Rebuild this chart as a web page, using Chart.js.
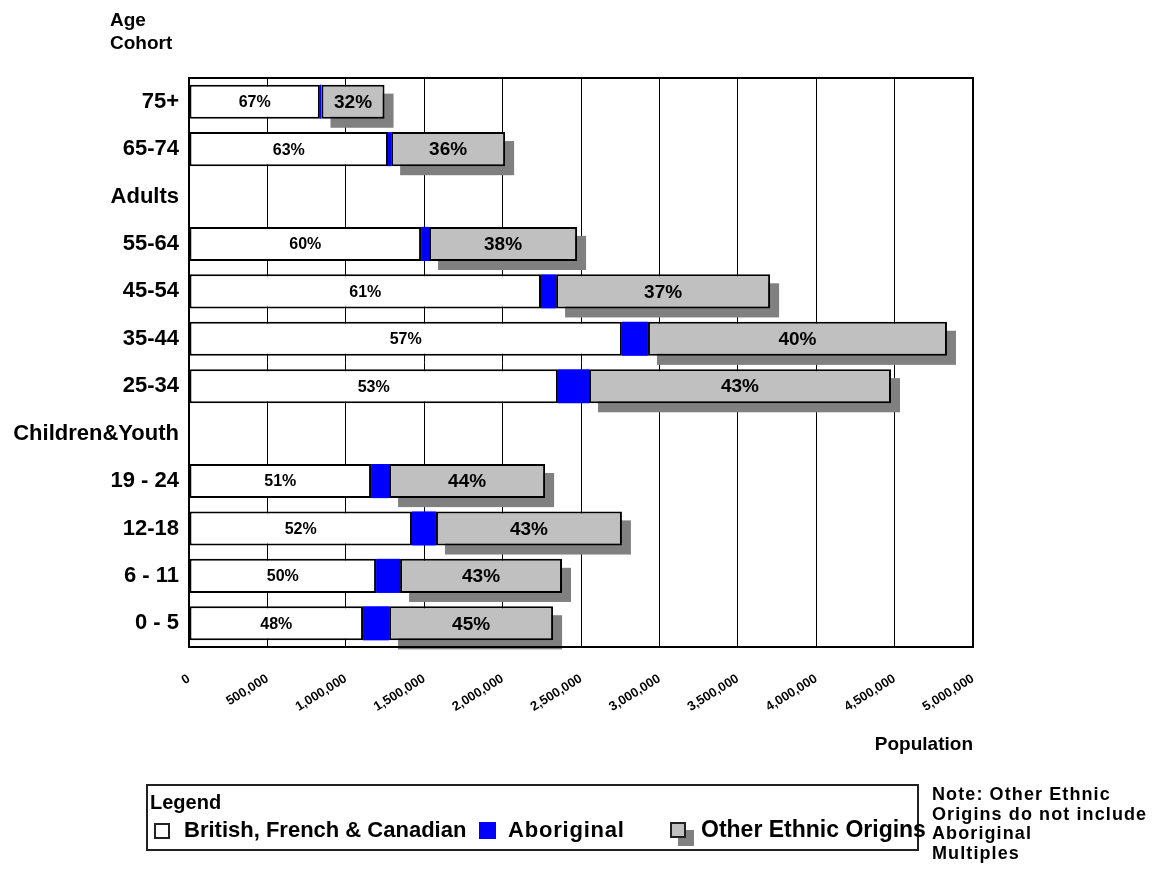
<!DOCTYPE html>
<html>
<head>
<meta charset="utf-8">
<title>Age Cohort by Origin</title>
<script src="https://cdn.jsdelivr.net/npm/chart.js@4"></script>
<style>
  body { margin: 0; background: #fff; font-family: "Liberation Sans", Arial, sans-serif; font-weight: bold; color: #000; }
  #wrap { position: relative; width: 1167px; height: 871px; }
  canvas { position: absolute; left: 0; top: 0; }
  .txt { position: absolute; white-space: nowrap; }
  #legend { position: absolute; left: 146px; top: 784px; width: 769px; height: 63px; border: 2px solid #222; }
  .sw { position: absolute; box-sizing: border-box; }
</style>
</head>
<body>
<div id="wrap">
  <canvas id="chart" width="1167" height="871"></canvas>
  <div class="txt" style="left:110px; top:8px; font-size:19px; line-height:23px;">Age<br>Cohort</div>
  <div class="txt" style="right:194px; top:733px; font-size:19px;">Population</div>
  <div id="legend"></div>
  <div class="txt" style="left:932px; top:785px; font-size:18px; line-height:19.5px; letter-spacing:1.1px;">Note: Other Ethnic<br>Origins do not include<br>Aboriginal<br>Multiples</div>
</div>
<script>
// categories, top to bottom (empty rows are section headings)
const cohorts = ["75+", "65-74", "Adults", "55-64", "45-54", "35-44", "25-34",
  "Children&Youth", "19 - 24", "12-18", "6 - 11", "0 - 5"];

// population by origin
const british = [835000, 1269000, null, 1480000, 2245000, 2761000, 2353000, null, 1161000, 1422000, 1193000, 1110000];
const aboriginal = [10000, 20000, null, 51000, 96000, 166000, 198000, null, 115000, 153000, 153000, 166000];
const otherEthnic = [402000, 727000, null, 944000, 1365000, 1907000, 1926000, null, 995000, 1186000, 1033000, 1046000];

// percentage labels shown on the bars
const britishPct = ["67%", "63%", "", "60%", "61%", "57%", "53%", "", "51%", "52%", "50%", "48%"];
const otherPct = ["32%", "36%", "", "38%", "37%", "40%", "43%", "", "44%", "43%", "43%", "45%"];

const seriesNames = ["British, French & Canadian", "Aboriginal", "Other Ethnic Origins"];
const xTicks = [0, 500000, 1000000, 1500000, 2000000, 2500000, 3000000, 3500000, 4000000, 4500000, 5000000];

const shadowPlugin = {
  id: "shadow",
  beforeDatasetsDraw(chart) {
    const ctx = chart.ctx;
    const meta = chart.getDatasetMeta(2);
    ctx.save();
    ctx.fillStyle = "#808080";
    meta.data.forEach((bar, i) => {
      if (otherEthnic[i] == null) return;
      const left = Math.min(bar.base, bar.x);
      const w = Math.abs(bar.x - bar.base);
      ctx.fillRect(left + 9, bar.y - bar.height / 2 + 9, w, bar.height);
    });
    ctx.restore();
  }
};

const labelPlugin = {
  id: "barLabels",
  afterDatasetsDraw(chart) {
    const ctx = chart.ctx;
    ctx.save();
    ctx.fillStyle = "#000";
    ctx.textAlign = "center";
    ctx.textBaseline = "middle";
    [[0, britishPct, 16], [2, otherPct, 19]].forEach(([ds, texts, size]) => {
      ctx.font = "bold " + size + "px 'Liberation Sans', Arial, sans-serif";
      chart.getDatasetMeta(ds).data.forEach((bar, i) => {
        if (!texts[i]) return;
        ctx.fillText(texts[i], (bar.x + bar.base) / 2, bar.y + 1);
      });
    });
    ctx.restore();
  }
};

const framePlugin = {
  id: "frame",
  afterDraw(chart) {
    const a = chart.chartArea;
    const ctx = chart.ctx;
    ctx.save();
    ctx.strokeStyle = "#000";
    ctx.lineWidth = 2;
    ctx.strokeRect(a.left, a.top, a.right - a.left, a.bottom - a.top);
    ctx.restore();
  }
};

const ctx = document.getElementById("chart").getContext("2d");
const chart = new Chart(ctx, {
  type: "bar",
  data: {
    labels: cohorts,
    datasets: [
      { label: seriesNames[0], data: british, backgroundColor: "#ffffff", borderColor: "#000", borderWidth: 2, borderSkipped: false },
      { label: seriesNames[1], data: aboriginal, backgroundColor: "#0000ff", borderWidth: 0 },
      { label: seriesNames[2], data: otherEthnic, backgroundColor: "#c0c0c0", borderColor: "#000", borderWidth: 2, borderSkipped: false },
    ],
  },
  options: {
    indexAxis: "y",
    responsive: false,
    devicePixelRatio: 1,
    animation: false,
    layout: { padding: { top: 78, right: 194, left: 0, bottom: 0 } },
    datasets: { bar: { barPercentage: 0.72, categoryPercentage: 1 } },
    scales: {
      x: {
        stacked: true,
        min: 0,
        max: 5000000,
        afterFit: (s) => { s.height = 224; },
        afterBuildTicks: (s) => { s.ticks = xTicks.map((v) => ({ value: v })); },
        grid: { color: "#000", lineWidth: 1, drawTicks: false },
        border: { display: false },
        ticks: {
          color: "#000",
          autoSkip: false,
          minRotation: 32,
          maxRotation: 32,
          padding: 24,
          font: { family: "'Liberation Sans', Arial, sans-serif", size: 13, weight: "bold" },
          callback: (v) => v.toLocaleString("en-US"),
        },
      },
      y: {
        stacked: true,
        afterFit: (s) => { s.width = 189; },
        grid: { display: false, drawTicks: false },
        border: { display: false },
        ticks: {
          color: "#000",
          padding: 10,
          autoSkip: false,
          font: { family: "'Liberation Sans', Arial, sans-serif", size: 22, weight: "bold" },
        },
      },
    },
    plugins: {
      legend: { display: false },
      tooltip: { enabled: false },
    },
  },
  plugins: [shadowPlugin, labelPlugin, framePlugin],
});

// legend box built from the series names
const legend = document.getElementById("legend");
legend.innerHTML =
  '<div class="txt" style="left:2px; top:5px; font-size:20px;">Legend</div>' +
  '<div class="sw" style="left:6px; top:37px; width:16px; height:16px; border:2px solid #222; background:#fff;"></div>' +
  '<div class="txt" style="left:36px; top:31px; font-size:22px;">' + seriesNames[0] + '</div>' +
  '<div class="sw" style="left:331px; top:36px; width:17px; height:17px; background:#0000ff;"></div>' +
  '<div class="txt" style="left:360px; top:31px; font-size:22px; letter-spacing:0.8px;">' + seriesNames[1] + '</div>' +
  '<div class="sw" style="left:530px; top:44px; width:16px; height:16px; background:#808080;"></div>' +
  '<div class="sw" style="left:522px; top:36px; width:16px; height:16px; border:2px solid #222; background:#c0c0c0;"></div>' +
  '<div class="txt" style="left:553px; top:30px; font-size:23px;">' + seriesNames[2] + '</div>';
</script>
</body>
</html>
